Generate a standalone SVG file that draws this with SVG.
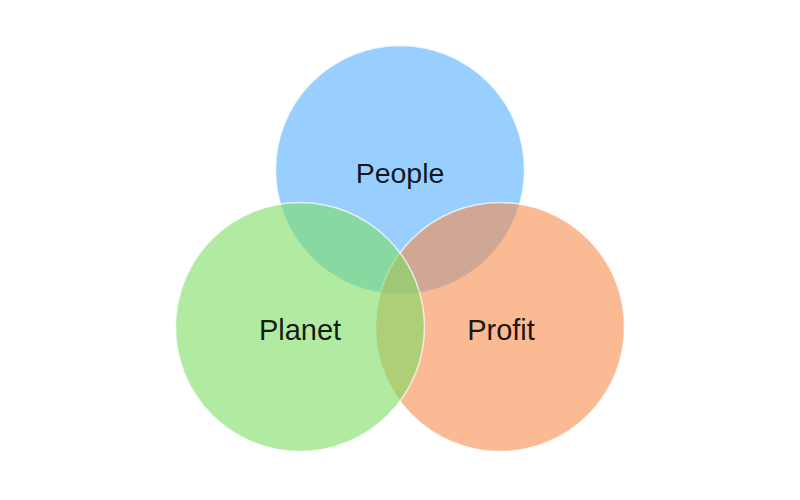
<svg xmlns="http://www.w3.org/2000/svg" width="800" height="500" viewBox="0 0 800 500">
<style>
.c{stroke:#ffffff;stroke-opacity:0.7;stroke-width:1.5;fill-opacity:0.6}
.t{font-family:"Liberation Sans",Arial,sans-serif;font-size:29px;fill:#000;fill-opacity:0.9;text-anchor:middle}
</style>
<rect width="800" height="500" fill="#ffffff"/>
<g id="people">
<circle class="c" cx="400" cy="170" r="124.5" fill="rgb(85,175,255)"/>
</g>
<g id="profit">
<circle class="c" cx="500" cy="327" r="124.5" fill="rgb(245,140,77)"/>
</g>
<g id="planet">
<circle class="c" cx="300" cy="327" r="124.5" fill="rgb(125,222,100)"/>
</g>
<g id="labels">
<text class="t" x="400" y="183" style="font-size:28.5px">People</text>
<text class="t" x="300" y="339.5">Planet</text>
<text class="t" x="501" y="339.5">Profit</text>
</g>
<g id="connectors"/>
</svg>
